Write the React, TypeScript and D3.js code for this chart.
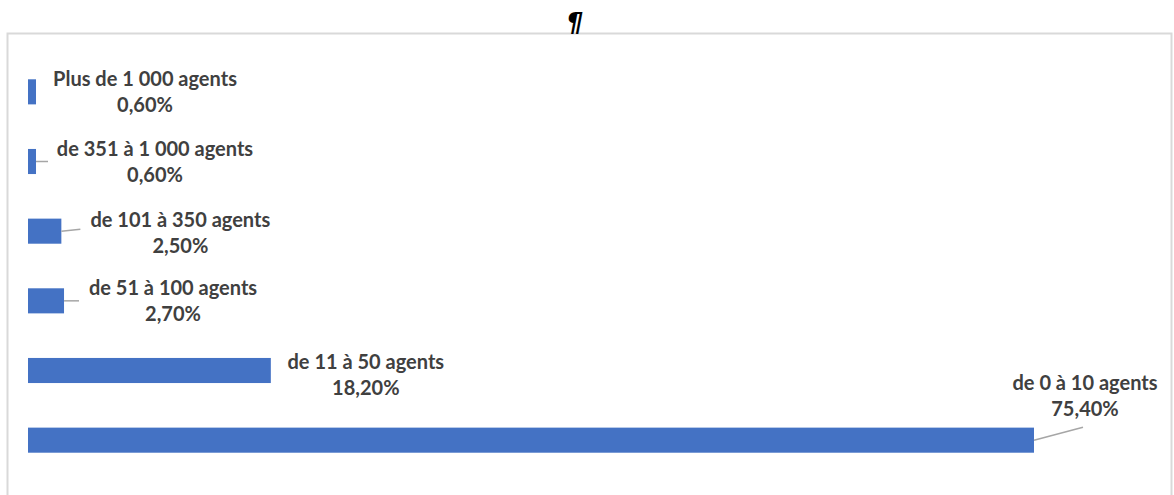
import React from "react";
import * as d3 from "d3";

const categories = [
  "Plus de 1 000 agents",
  "de 351 à 1 000 agents",
  "de 101 à 350 agents",
  "de 51 à 100 agents",
  "de 11 à 50 agents",
  "de 0 à 10 agents",
];
const values = [0.6, 0.6, 2.5, 2.7, 18.2, 75.4];
const valueLabels = ["0,60%", "0,60%", "2,50%", "2,70%", "18,20%", "75,40%"];

// manual label placement (offset from bar end / bar centre), like the original chart
const labelDx = [109, 119, 119, 109, 95, 51];
const labelDy = [-14, -14, -12, -14, -10, -58];
const leaderDx = [0, 12, 19, 15, 0, 49];
const leaderDy = [0, 0, -2, 0, 0, -13];

const W = 1174;
const H = 495;

export default function App() {
  const x = d3.scaleLinear().domain([0, 75.4]).range([28, 1034]);
  const y = d3
    .scaleBand<string>()
    .domain(categories)
    .range([57, 475])
    .paddingInner(0.64)
    .paddingOuter(0.32);
  const bw = y.bandwidth();
  const font = "Lato, 'Open Sans', sans-serif";

  return (
    <svg
      width={W}
      height={H}
      style={{ position: "absolute", left: 0, top: 0, background: "#fff" }}
    >
      <rect x={7.5} y={33.5} width={1164} height={480} fill="#fff" stroke="#d9d9d9" strokeWidth={2} />
      <text x={575} y={32} textAnchor="middle" fontFamily="'DejaVu Sans', sans-serif" fontWeight="bold" fontStyle="italic" fontSize={26} fill="#000">
        ¶
      </text>
      {categories.map((c, i) => {
        const y0 = y(c)!;
        const cy = y0 + bw / 2;
        const xe = x(values[i]);
        const lx = xe + labelDx[i];
        const ly = cy + labelDy[i];
        return (
          <g key={c}>
            <rect x={x(0)} y={y0} width={xe - x(0)} height={bw} fill="#4472c4" />
            {leaderDx[i] > 0 && (
              <line
                x1={xe}
                y1={cy}
                x2={xe + leaderDx[i]}
                y2={cy + leaderDy[i]}
                stroke="#a6a6a6"
                strokeWidth={1.5}
              />
            )}
            <text x={lx} y={ly} textAnchor="middle" fontFamily={font} fontWeight="bold" fontSize={20} fill="#404040" dominantBaseline="central">
              {c}
            </text>
            <text x={lx} y={ly + 26} textAnchor="middle" fontFamily={font} fontWeight="bold" fontSize={20} fill="#404040" dominantBaseline="central">
              {valueLabels[i]}
            </text>
          </g>
        );
      })}
    </svg>
  );
}
